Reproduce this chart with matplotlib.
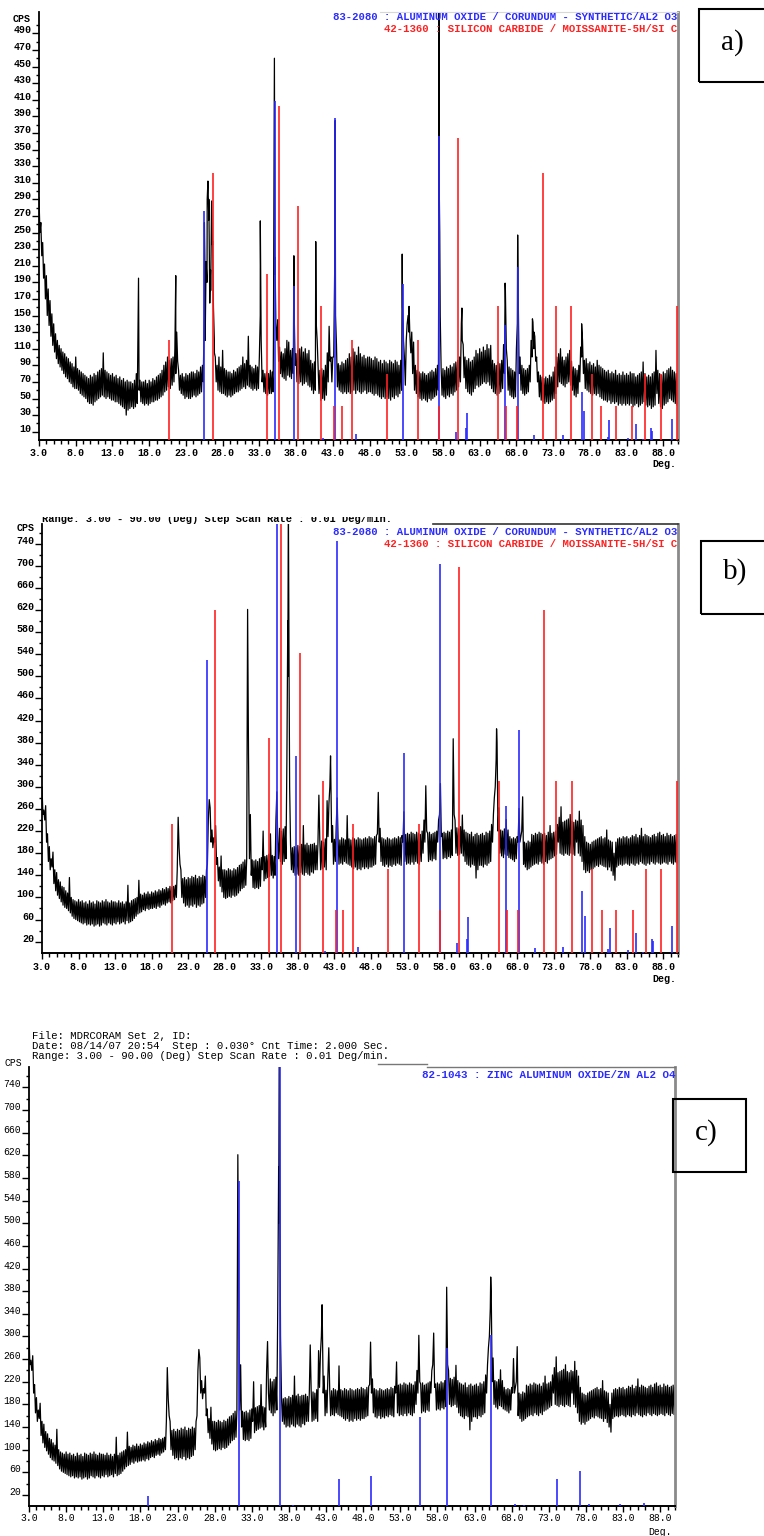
import numpy as np
import matplotlib
matplotlib.use("Agg")
import matplotlib.pyplot as plt
from matplotlib.patches import Rectangle
from matplotlib.transforms import Bbox

## Data ##

# counts: top of the band every 0.25 deg from 3.00,
# bottom of the band every 0.25 deg from 3.125
a_top = [
    292, 262, 238, 212, 198, 182, 168, 152, 140, 128, 120, 114, 110, 106, 104, 100, 98, 94, 92, 88,
    100, 86, 84, 82, 80, 78, 76, 74, 78, 76, 80, 78, 82, 84, 86, 105, 84, 82, 80, 78,
    80, 76, 78, 74, 76, 72, 74, 70, 72, 70, 70, 68, 72, 80, 150, 72, 70, 70, 72, 68,
    72, 70, 74, 72, 76, 78, 80, 84, 90, 94, 100, 96, 98, 100, 110, 130, 84, 78, 80, 76,
    80, 78, 80, 82, 82, 80, 84, 82, 88, 90, 150, 215, 312, 165, 288, 160, 100, 90, 100, 88,
    108, 86, 84, 82, 82, 80, 84, 82, 86, 88, 90, 100, 92, 96, 125, 90, 88, 86, 90, 88,
    100, 120, 84, 80, 82, 80, 84, 82, 330, 140, 145, 112, 106, 104, 110, 120, 118, 108, 110, 150,
    104, 108, 110, 112, 106, 110, 104, 108, 96, 92, 94, 140, 88, 84, 86, 84, 90, 105, 137, 100,
    100, 200, 115, 92, 90, 94, 92, 96, 98, 104, 100, 110, 106, 102, 112, 104, 100, 102, 98, 100,
    100, 98, 96, 100, 98, 94, 96, 92, 96, 94, 92, 96, 94, 92, 96, 94, 90, 96, 160, 100,
    120, 150, 125, 130, 118, 90, 84, 82, 80, 82, 80, 78, 80, 82, 84, 82, 86, 90, 300, 86,
    86, 84, 88, 86, 90, 88, 92, 94, 96, 100, 140, 115, 100, 96, 98, 94, 96, 100, 108, 104,
    110, 106, 112, 108, 115, 110, 114, 96, 92, 90, 94, 92, 96, 115, 180, 96, 88, 86, 84, 82,
    110, 170, 100, 90, 86, 84, 86, 90, 120, 142, 125, 100, 82, 78, 76, 74, 76, 74, 78, 76,
    82, 88, 100, 104, 110, 100, 96, 100, 104, 108, 95, 88, 86, 84, 90, 112, 120, 96, 98, 92,
    94, 90, 92, 88, 96, 90, 88, 86, 84, 82, 84, 80, 82, 80, 84, 78, 80, 78, 82, 78,
    80, 78, 82, 80, 80, 76, 78, 80, 82, 94, 80, 76, 78, 76, 80, 82, 108, 84, 80, 78,
    82, 80, 84, 86, 88, 84, 82, 80, 78,
]
a_bottom = [
    250, 222, 195, 170, 150, 138, 125, 114, 106, 98, 92, 88, 84, 80, 76, 74, 70, 68, 64, 62,
    62, 60, 56, 54, 52, 50, 46, 44, 44, 42, 46, 48, 50, 52, 54, 52, 50, 52, 50, 48,
    48, 46, 46, 44, 42, 40, 38, 30, 36, 38, 40, 38, 40, 44, 60, 46, 44, 42, 44, 42,
    44, 46, 46, 48, 48, 50, 52, 54, 58, 60, 64, 62, 66, 70, 80, 95, 60, 56, 54, 50,
    52, 50, 50, 52, 54, 52, 54, 56, 58, 70, 120, 190, 290, 180, 240, 120, 70, 60, 58, 56,
    56, 54, 52, 54, 52, 54, 56, 58, 58, 60, 62, 64, 62, 66, 64, 62, 60, 62, 60, 62,
    150, 70, 58, 56, 54, 56, 56, 58, 200, 120, 95, 80, 76, 74, 72, 78, 76, 74, 80, 90,
    70, 68, 70, 66, 68, 70, 66, 64, 60, 56, 60, 120, 56, 48, 50, 48, 54, 70, 95, 70,
    100, 150, 64, 60, 58, 56, 58, 56, 58, 56, 58, 60, 56, 60, 58, 56, 58, 60, 56, 58,
    58, 56, 54, 56, 54, 52, 50, 52, 50, 52, 50, 48, 52, 50, 54, 52, 56, 60, 120, 66,
    140, 130, 105, 80, 60, 56, 52, 50, 48, 50, 48, 46, 50, 48, 50, 52, 54, 60, 150, 54,
    52, 50, 54, 52, 56, 54, 58, 60, 64, 70, 120, 75, 62, 58, 56, 54, 58, 62, 66, 64,
    66, 68, 70, 68, 70, 66, 62, 58, 56, 54, 56, 58, 62, 80, 110, 60, 54, 52, 50, 52,
    140, 80, 60, 56, 54, 56, 58, 70, 100, 110, 95, 70, 52, 48, 46, 44, 46, 44, 46, 48,
    50, 56, 64, 70, 68, 66, 64, 68, 70, 66, 60, 54, 52, 56, 70, 100, 80, 62, 60, 58,
    56, 54, 56, 54, 56, 52, 50, 48, 48, 46, 48, 44, 46, 44, 46, 42, 44, 42, 44, 42,
    44, 42, 44, 40, 42, 44, 40, 42, 44, 46, 42, 40, 42, 38, 40, 42, 56, 44, 40, 38,
    42, 44, 46, 50, 48, 46, 44, 42,
]
# tips of the sharp reflections in a)
a_peak_deg = [16.55, 21.62, 25.40, 25.52, 25.62, 25.90, 26.12, 26.35, 26.62, 26.88,
              33.13, 34.92, 35.05, 35.13, 37.62, 37.70, 40.68, 43.32,
              52.45, 52.58, 53.38, 57.42, 57.48, 57.56, 60.58, 66.46, 68.17,
              70.18, 70.40, 76.88]
a_peak_cps = [195, 198, 95, 262, 190, 290, 265, 205, 235, 105,
              264, 120, 460, 220, 110, 222, 239, 385,
              224, 140, 161, 200, 525, 250, 159, 189, 247,
              146, 130, 140]

# b) and c) come from the same scan
bc_top = [
    300, 258, 266, 215, 192, 170, 182, 150, 145, 132, 128, 120, 118, 112, 108, 136, 100, 96, 94, 92,
    96, 92, 94, 90, 92, 88, 94, 90, 92, 88, 94, 92, 90, 94, 92, 96, 92, 90, 94, 92,
    92, 90, 94, 90, 92, 88, 92, 122, 90, 94, 96, 98, 100, 131, 106, 104, 108, 106, 110, 106,
    110, 108, 112, 110, 114, 112, 116, 114, 118, 116, 120, 118, 120, 122, 150, 190, 150, 134, 136, 132,
    136, 134, 138, 136, 140, 134, 138, 136, 140, 138, 150, 240, 262, 222, 208, 230, 172, 155, 175, 150,
    150, 148, 152, 150, 148, 152, 150, 154, 158, 160, 164, 168, 170, 360, 250, 168, 166, 168, 165, 170,
    172, 220, 174, 176, 178, 215, 176, 174, 240, 200, 225, 220, 224, 228, 350, 650, 195, 190, 192, 190,
    194, 192, 196, 230, 195, 198, 194, 196, 196, 198, 194, 200, 205, 202, 200, 206, 275, 270, 330, 230,
    205, 230, 206, 204, 208, 206, 204, 248, 206, 204, 208, 206, 204, 208, 206, 204, 206, 208, 206, 210,
    208, 206, 210, 212, 290, 225, 208, 206, 204, 208, 206, 204, 206, 208, 206, 210, 208, 212, 255, 214,
    216, 214, 218, 216, 214, 218, 216, 214, 220, 240, 302, 216, 218, 214, 216, 218, 220, 240, 306, 216,
    218, 216, 220, 218, 222, 387, 240, 226, 224, 228, 249, 222, 218, 216, 214, 218, 210, 214, 216, 212,
    214, 216, 212, 218, 216, 220, 232, 250, 300, 380, 262, 222, 220, 224, 241, 222, 210, 206, 208, 206,
    210, 261, 210, 282, 200, 198, 202, 200, 214, 212, 216, 214, 218, 216, 214, 216, 212, 218, 230, 216,
    218, 220, 232, 245, 264, 236, 238, 240, 242, 250, 238, 236, 240, 238, 256, 240, 230, 210, 200, 198,
    196, 200, 202, 204, 206, 208, 210, 206, 208, 222, 204, 202, 200, 180, 200, 206, 208, 206, 210, 208,
    210, 206, 208, 212, 210, 214, 208, 212, 225, 210, 214, 212, 210, 208, 212, 214, 210, 216, 218, 212,
    214, 210, 216, 212, 214, 210, 212, 214, 210,
]
bc_bottom = [
    250, 240, 200, 165, 150, 155, 125, 112, 104, 98, 92, 86, 82, 80, 76, 72, 66, 62, 60, 58,
    56, 54, 52, 54, 50, 52, 50, 52, 48, 50, 52, 48, 50, 54, 52, 50, 54, 52, 50, 54,
    52, 56, 52, 54, 56, 52, 58, 54, 56, 58, 62, 66, 70, 72, 74, 78, 76, 80, 78, 80,
    80, 82, 80, 84, 82, 86, 88, 86, 90, 92, 90, 94, 96, 100, 245, 160, 100, 90, 84, 86,
    82, 86, 84, 88, 82, 86, 84, 88, 90, 100, 160, 277, 200, 190, 200, 160, 130, 120, 110, 100,
    98, 100, 102, 100, 104, 102, 104, 108, 112, 116, 118, 122, 621, 170, 140, 118, 116, 118, 116, 120,
    150, 130, 134, 136, 138, 140, 135, 140, 291, 170, 165, 160, 165, 170, 500, 300, 150, 145, 140, 142,
    140, 145, 142, 140, 145, 142, 140, 146, 144, 150, 150, 285, 150, 152, 155, 150, 210, 300, 200, 160,
    165, 280, 160, 162, 160, 165, 162, 160, 158, 155, 152, 155, 150, 152, 150, 155, 152, 155, 152, 155,
    155, 158, 160, 215, 200, 165, 158, 156, 160, 155, 158, 156, 160, 158, 162, 160, 158, 200, 165, 160,
    162, 160, 164, 160, 165, 162, 160, 165, 180, 200, 220, 165, 168, 166, 170, 168, 200, 250, 210, 170,
    172, 170, 174, 172, 176, 250, 180, 176, 178, 180, 175, 165, 160, 158, 155, 160, 158, 135, 150, 158,
    158, 155, 160, 158, 162, 165, 200, 280, 350, 220, 180, 175, 172, 178, 176, 172, 170, 168, 165, 170,
    200, 200, 220, 160, 155, 150, 152, 155, 158, 160, 162, 160, 165, 162, 160, 165, 162, 168, 170, 172,
    175, 178, 200, 180, 178, 176, 180, 178, 176, 180, 178, 176, 200, 180, 175, 165, 150, 145, 148, 145,
    150, 152, 155, 158, 156, 160, 158, 156, 155, 150, 155, 148, 140, 131, 155, 158, 160, 158, 160, 162,
    160, 158, 162, 160, 158, 162, 160, 165, 162, 160, 158, 162, 160, 165, 162, 160, 164, 162, 160, 162,
    164, 162, 160, 165, 162, 160, 164, 162,
]
bc_peak_deg = [36.62, 36.70, 36.80, 42.47, 65.18]
bc_peak_cps = [600, 820, 500, 356, 405]

# 83-2080 corundum stick pattern
corundum_deg = [25.52, 35.10, 37.74, 41.65, 43.35, 46.18, 52.50, 57.50, 59.77, 61.15,
                61.30, 66.50, 68.21, 70.40, 74.32, 76.87, 77.26, 80.42, 80.67, 83.20,
                84.32, 85.20, 86.38, 86.52, 89.12]
corundum_a = [276, 408, 185, 3, 388, 7, 188, 366, 10, 14,
              33, 138, 209, 6, 6, 58, 35, 4, 24, 3,
              19, 1, 14, 11, 25]
corundum_b = [530, 790, 356, 3, 745, 11, 362, 703, 18, 25,
              64, 265, 402, 8, 10, 112, 66, 7, 44, 5,
              35, 2, 25, 21, 48]

# 42-1360 moissanite stick pattern
sic_deg = [20.76, 26.66, 34.08, 35.65, 38.33, 41.38, 43.23, 44.20, 45.60, 50.37,
           54.56, 57.50, 60.05, 65.52, 66.63, 68.07, 71.68, 73.36, 75.46, 78.28,
           79.55, 81.55, 83.80, 85.56, 87.70, 89.93]
sic_a = [121, 322, 200, 402, 282, 162, 41, 41, 121, 80,
         121, 41, 364, 162, 41, 41, 322, 162, 162, 80,
         41, 41, 41, 80, 80, 162]
sic_b = [233, 620, 388, 790, 543, 310, 77, 77, 233, 152,
         233, 77, 698, 310, 77, 77, 620, 310, 310, 152,
         77, 77, 77, 152, 152, 310]

# 82-1043 gahnite stick pattern
gahnite_deg = [19.06, 31.28, 36.85, 38.58, 44.73, 49.03, 55.60, 59.33, 65.22, 68.51,
               69.67, 74.10, 77.25, 78.41, 82.58, 85.77]
gahnite_c = [18, 575, 800, 2, 49, 54, 157, 279, 303, 4,
             2, 49, 62, 4, 4, 6]

xtick_deg = np.arange(3, 89, 5)
xtick_labels = ["%.1f" % v for v in xtick_deg]

## Figure ##

W, H = 764, 1536
fig = plt.figure(figsize=(W / 100, H / 100), dpi=100)

BLUE = "#2b2bff"
RED = "#ff2020"
MONO = "Liberation Mono"
TRACE_LW = 0.9
STICK_LW = 1.2


def fig_text(x, y, s, **kw):
    # x, y in pixels from the top left corner
    return fig.text(x / W, 1 - y / H, s, **kw)


def fig_line(x0, x1, y, **kw):
    fig.add_artist(plt.Line2D([x0 / W, x1 / W], [1 - y / H, 1 - y / H],
                              transform=fig.transFigure, **kw))


def scan(top, bottom, pdeg, pcps):
    # interleave band top/bottom readings and the peak tips into one trace
    x = np.concatenate([3.0 + 0.25 * np.arange(len(top)),
                        3.125 + 0.25 * np.arange(len(bottom)), pdeg])
    y = np.concatenate([top, bottom, pcps]).astype(float)
    order = np.argsort(x, kind="stable")
    return x[order], y[order]


def make_panel(left, top, right, bottom, ymax, ymajor, yminor,
               bold, label_size, xpad):
    ax = fig.add_axes([left / W, 1 - bottom / H, (right - left) / W, (bottom - top) / H])
    ax.set_xlim(3, 90)
    ax.set_ylim(0, ymax)
    weight = "bold" if bold else "normal"

    ax.set_xticks(xtick_deg)
    ax.set_xticklabels(xtick_labels, fontsize=label_size, family=MONO, weight=weight)
    ax.set_xticks(np.arange(3, 91, 1), minor=True)
    ax.set_yticks(ymajor)
    ax.set_yticklabels([str(v) for v in ymajor], fontsize=label_size, family=MONO,
                       weight=weight, va="baseline")
    ax.set_yticks(yminor, minor=True)

    ax.tick_params(axis="x", which="major", direction="out", length=4.4, width=1.0, pad=xpad)
    ax.tick_params(axis="x", which="minor", direction="out", length=2.9, width=1.0)
    ax.tick_params(axis="y", which="major", direction="out", length=5.0, width=1.0, pad=0.6)
    ax.tick_params(axis="y", which="minor", direction="out", length=2.2, width=1.0)

    ax.spines["top"].set_visible(False)
    ax.spines["left"].set_linewidth(1.3)
    ax.spines["bottom"].set_linewidth(1.4)
    ax.spines["right"].set_color("#8a8a8a")
    ax.spines["right"].set_linewidth(2.0)
    ax.patch.set_alpha(0)
    return ax


## a) ##
ax_a = make_panel(39, 12, 678, 440, 515.7, list(range(10, 500, 20)),
                  list(range(20, 511, 20)), True, 7.2, 1.6)
xa, ya = scan(a_top, a_bottom, a_peak_deg, a_peak_cps)
ax_a.plot(xa, ya, color="black", lw=TRACE_LW, zorder=2)
ax_a.vlines(corundum_deg, 0, corundum_a, colors=BLUE, lw=STICK_LW, zorder=3)
ax_a.vlines(sic_deg, 0, sic_a, colors=RED, lw=STICK_LW, zorder=3)
fig_line(380, 678, 12, color="#d8d8d8", lw=0.8)
fig_text(30.7, 19, "CPS", ha="right", va="center", fontsize=7.2, family=MONO, weight="bold")
fig_text(676, 464, "Deg.", ha="right", va="center", fontsize=7.2, family=MONO, weight="bold")
fig_text(677, 16.7, "83-2080 : ALUMINUM OXIDE / CORUNDUM - SYNTHETIC/AL2 O3", ha="right",
         va="center", fontsize=7.7, family=MONO, weight="bold", color=BLUE)
fig_text(677, 29, "42-1360 : SILICON CARBIDE / MOISSANITE-5H/SI C", ha="right",
         va="center", fontsize=7.7, family=MONO, weight="bold", color=RED)

## b) ##
ax_b = make_panel(42, 524, 678, 952.7, 775.5, list(range(20, 760, 40)),
                  list(range(40, 771, 40)), True, 7.2, 2.4)
xb, yb = scan(bc_top, bc_bottom, bc_peak_deg, bc_peak_cps)
ax_b.plot(xb, yb, color="black", lw=TRACE_LW, zorder=2)
ax_b.vlines(corundum_deg, 0, corundum_b, colors=BLUE, lw=STICK_LW, zorder=3)
ax_b.vlines(sic_deg, 0, sic_b, colors=RED, lw=STICK_LW, zorder=3)
fig_line(433, 678, 524, color="#333333", lw=1.2)
hdr = fig_text(42, 521.5, "Range: 3.00 - 90.00 (Deg) Step Scan Rate : 0.01 Deg/min.",
               ha="left", va="baseline", fontsize=7.5, family=MONO, weight="bold")
hdr.set_clip_box(Bbox.from_extents(0, 0, W, H - 517))
hdr.set_clip_on(True)
fig_text(34.3, 528.3, "CPS", ha="right", va="center", fontsize=7.2, family=MONO, weight="bold")
fig_text(676, 978.7, "Deg.", ha="right", va="center", fontsize=7.2, family=MONO, weight="bold")
fig_text(677, 531.7, "83-2080 : ALUMINUM OXIDE / CORUNDUM - SYNTHETIC/AL2 O3", ha="right",
         va="center", fontsize=7.7, family=MONO, weight="bold", color=BLUE)
fig_text(677, 543.7, "42-1360 : SILICON CARBIDE / MOISSANITE-5H/SI C", ha="right",
         va="center", fontsize=7.7, family=MONO, weight="bold", color=RED)

## c) ##
ax_c = make_panel(29, 1067, 675, 1506.3, 775.9, list(range(20, 760, 40)),
                  list(range(40, 771, 40)), False, 7.0, 0.5)
xc, yc = scan(bc_top, bc_bottom, bc_peak_deg, bc_peak_cps)
ax_c.plot(xc, yc, color="black", lw=TRACE_LW, zorder=2)
ax_c.vlines(gahnite_deg, 0, gahnite_c, colors=BLUE, lw=STICK_LW, zorder=3)
fig_line(378, 427, 1064.3, color="#777777", lw=1.0)
fig_line(427, 675, 1067.3, color="#777777", lw=1.0)
fig_text(32, 1036, "File: MDRCORAM Set 2, ID:", ha="left", va="center",
         fontsize=7.7, family=MONO)
fig_text(32, 1046, "Date: 08/14/07 20:54  Step : 0.030\u00b0 Cnt Time: 2.000 Sec.",
         ha="left", va="center", fontsize=7.7, family=MONO)
fig_text(32, 1056, "Range: 3.00 - 90.00 (Deg) Step Scan Rate : 0.01 Deg/min.",
         ha="left", va="center", fontsize=7.7, family=MONO)
fig_text(21.7, 1063.3, "CPS", ha="right", va="center", fontsize=7.0, family=MONO)
fig_text(672, 1531.7, "Deg.", ha="right", va="center", fontsize=7.0, family=MONO)
fig_text(675, 1075, "82-1043 : ZINC ALUMINUM OXIDE/ZN AL2 O4", ha="right",
         va="center", fontsize=7.8, family=MONO, weight="bold", color=BLUE)

## panel tags ##
for (x0, y0, x1, y1, tag, tx, ty) in [(699, 9, 790, 82, "a)", 732, 43),
                                      (701, 541, 790, 614, "b)", 735, 572),
                                      (673, 1099, 746, 1172, "c)", 706, 1133)]:
    fig.add_artist(Rectangle((x0 / W, 1 - y1 / H), (x1 - x0) / W, (y1 - y0) / H,
                             transform=fig.transFigure, fill=False, lw=1.5,
                             edgecolor="black", clip_on=False))
    fig_text(tx, ty, tag, ha="center", va="center", fontsize=21, family="Liberation Serif")

fig.savefig("out.png", dpi=100)
